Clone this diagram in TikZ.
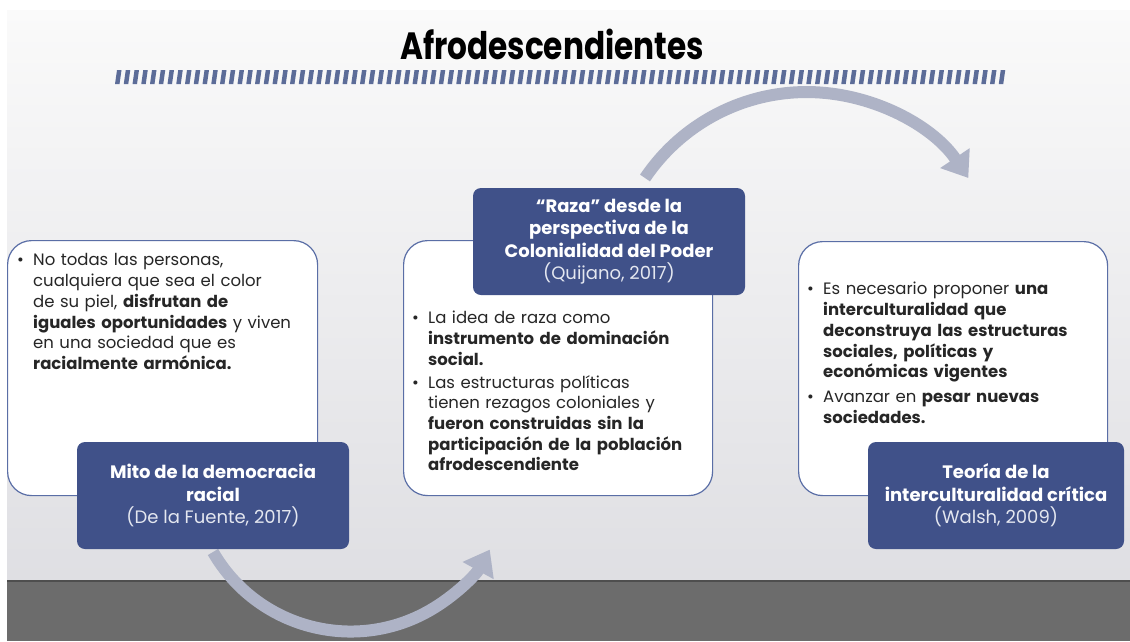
\documentclass[tikz,border=0pt]{standalone}
\usepackage{fontspec}
\setmainfont{Poppins}
\usetikzlibrary{arrows.meta}
\definecolor{boxblue}{HTML}{405189}
\definecolor{edgeblue}{HTML}{5A6EA6}
\definecolor{arrowgray}{HTML}{AEB3C6}
\definecolor{stripecol}{HTML}{5C6C98}
\definecolor{bodytext}{HTML}{262626}
\definecolor{citetext}{HTML}{E4E7F0}
\definecolor{floorcol}{HTML}{6C6C6C}
\definecolor{floortop}{HTML}{4E4E4E}
\definecolor{bgtop}{HTML}{FAFAFA}
\definecolor{bgbottom}{HTML}{DFDFE3}
\newcommand{\bitem}[1]{\par\noindent\hangindent=16pt\hangafter=1\makebox[16pt][l]{\textbullet}#1\par}
\newcommand{\nl}{\hfil\break}
\begin{document}
\begin{tikzpicture}[x=1pt,y=-1pt,
  whitebox/.style={draw=edgeblue, line width=1.2pt, fill=white, rounded corners=24pt, inner sep=0pt, anchor=north west},
  bluebox/.style={fill=boxblue, rounded corners=8pt, text=white, align=center, inner sep=0pt, font=\fontsize{18}{22.5}\selectfont},
  bodytxt/.style={anchor=north west, inner sep=0pt, text width=300pt, text=bodytext, font=\fontsize{16.5}{20.7}\selectfont},
  bigarrow/.style={draw=arrowgray, line width=12pt, -{Triangle[length=24pt,width=34pt]}},
]
\useasboundingbox (0,0) rectangle (1130,641);
\fill[white] (0,0) rectangle (1130,641);
% background
\shade[top color=bgtop, bottom color=bgbottom] (7,10) rectangle (1130,580);
\fill[floorcol] (7,580) rectangle (1130,641);
\draw[floortop, line width=2pt] (7,581) -- (1130,581);
% title
\node (title) at (552,44) {\scalebox{0.82}[1]{\fontsize{38}{40}\selectfont\bfseries Afrodescendientes}};
% stripes
\foreach \i in {0,...,101}{
  \fill[stripecol] ({115+\i*8.75+2},70) -- ({115+\i*8.75+6.5},70) -- ({115+\i*8.75+4.5},84) -- ({115+\i*8.75},84) -- cycle;
}
% arrows
\coordinate (ab1) at (213,552);
\coordinate (at1) at (645,178);
\draw[bigarrow] (ab1) arc[start angle=150, end angle=29, radius=159];
\draw[bigarrow] (at1) arc[start angle=214, end angle=326, radius=195];
% white boxes
\node[whitebox, minimum width=310pt, minimum height=255pt] (wl) at (7,240) {};
\node[whitebox, minimum width=309pt, minimum height=255pt] (wm) at (403,240) {};
\node[whitebox, minimum width=309pt, minimum height=254pt] (wr) at (798,241) {};
% blue boxes
\node[bluebox, minimum width=272pt, minimum height=107pt] (bl) at (213,495.5)
  {\textbf{Mito de la democracia}\\\textbf{racial}\\{\color{citetext}(De la Fuente, 2017)}};
\node[bluebox, minimum width=272pt, minimum height=107pt] (bm) at (609,241.5)
  {\textbf{“Raza” desde la}\\\textbf{perspectiva de la}\\\textbf{Colonialidad del Poder}\\{\color{citetext}(Quijano, 2017)}};
\node[bluebox, minimum width=256pt, minimum height=107pt] (br) at (996,495.5)
  {\textbf{Teoría de la}\\\textbf{interculturalidad crítica}\\{\color{citetext}(Walsh, 2009)}};
% body text
\node[bodytxt] (tl) at (17,245) {\bitem{No todas las personas,\nl cualquiera que sea el color\nl de su piel, \textbf{disfrutan de}\nl \textbf{iguales oportunidades} y viven\nl en una sociedad que es\nl \textbf{racialmente armónica.}}};
\node[bodytxt] (tm) at (412,303) {\bitem{La idea de raza como\nl \textbf{instrumento de dominación}\nl \textbf{social.}}\vspace{2pt}\bitem{Las estructuras políticas\nl tienen rezagos coloniales y\nl \textbf{fueron construidas sin la}\nl \textbf{participación de la población}\nl \textbf{afrodescendiente}}};
\node[bodytxt] (tr) at (807,274) {\bitem{Es necesario proponer \textbf{una}\nl \textbf{interculturalidad que}\nl \textbf{deconstruya las estructuras}\nl \textbf{sociales, políticas y}\nl \textbf{económicas vigentes}}\vspace{4pt}\bitem{Avanzar en \textbf{pesar nuevas}\nl \textbf{sociedades.}}};
\end{tikzpicture}
\end{document}
